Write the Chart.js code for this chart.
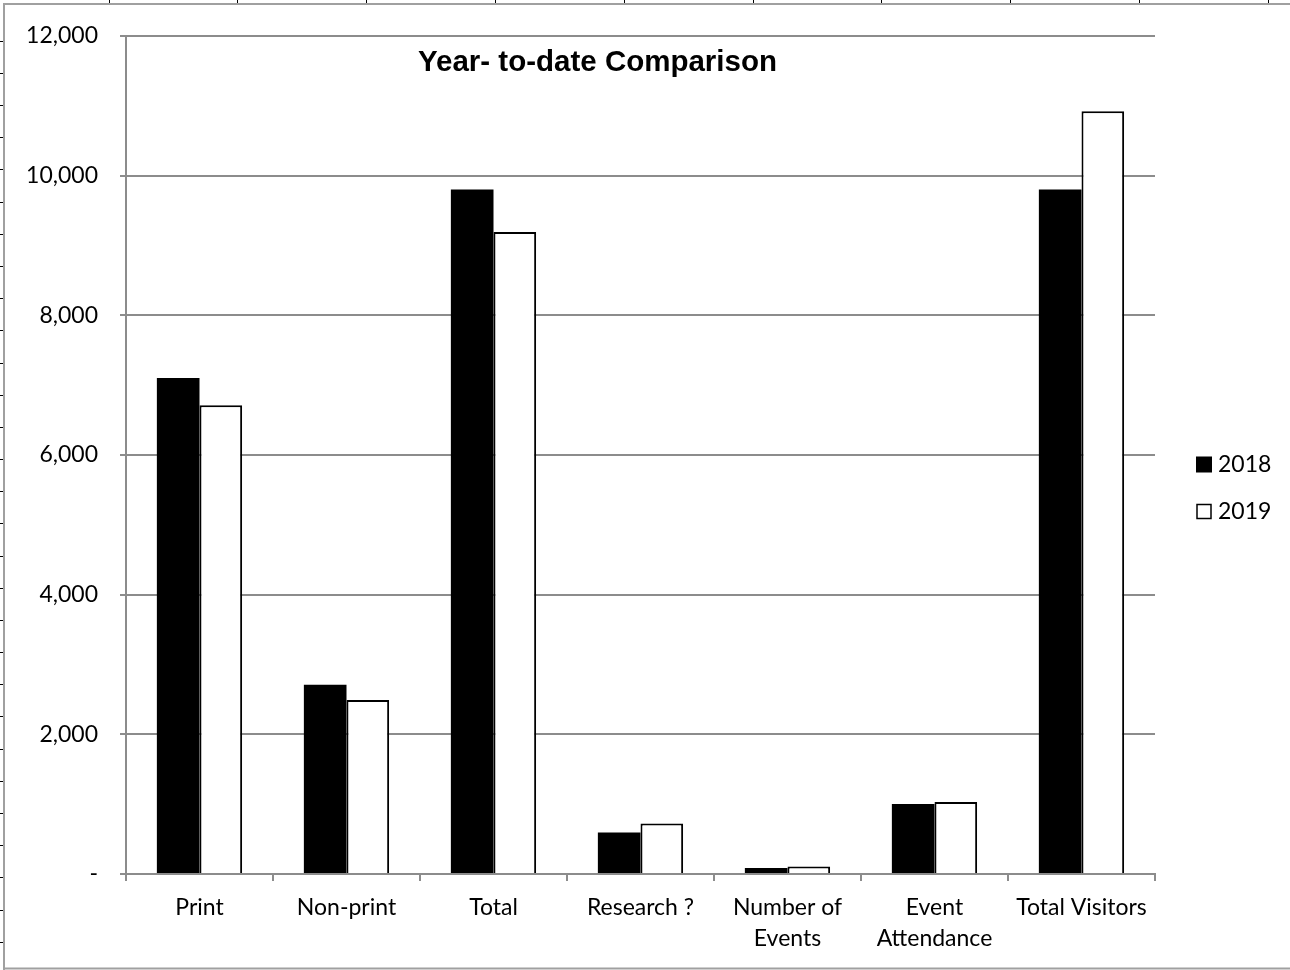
<!DOCTYPE html>
<html>
<head>
<meta charset="utf-8">
<title>Year- to-date Comparison</title>
<script src="https://cdn.jsdelivr.net/npm/chart.js@4.4.1/dist/chart.umd.min.js"></script>
<style>
  html, body { margin: 0; padding: 0; background: #ffffff; }
  #wrap { width: 1290px; height: 970px; position: relative; }
  canvas { display: block; }
</style>
</head>
<body>
<div id="wrap"><canvas id="chart" width="1290" height="970"></canvas></div>
<script>
// Categories and yearly totals
const categories = [
  'Print',
  'Non-print',
  'Total',
  'Research ?',
  ['Number of', 'Events'],
  ['Event', 'Attendance'],
  'Total Visitors'
];
const values2018 = [7100, 2710, 9800, 595, 86, 1003, 9800];
const values2019 = [6710, 2490, 9190, 722, 108, 1031, 10920];
const seriesNames = ['2018', '2019'];
const yTickValues = [0, 2000, 4000, 6000, 8000, 10000, 12000];

const fontFamily = 'Lato, "Open Sans", sans-serif';
const axisFont = { family: fontFamily, size: 23, lineHeight: 1.35 };
const gridGrey = '#8c8c8c';

// Sheet frame behind the chart, title and legend
const decorations = {
  id: 'decorations',
  beforeDraw(chart) {
    const ctx = chart.ctx;
    ctx.save();
    ctx.fillStyle = '#ffffff';
    ctx.fillRect(0, 0, chart.width, chart.height);
    // cell boundary marks
    ctx.strokeStyle = '#000000';
    ctx.lineWidth = 1;
    ctx.beginPath();
    for (let x = 108.5; x < chart.width; x += 128.8) {
      const px = Math.round(x) + 0.5;
      ctx.moveTo(px, 0); ctx.lineTo(px, 4);
    }
    for (let y = 40.7; y < chart.height; y += 32.18) {
      const py = Math.round(y) + 0.5;
      ctx.moveTo(0, py); ctx.lineTo(3, py);
    }
    ctx.stroke();
    // outer frame
    ctx.strokeStyle = '#a0a0a0';
    ctx.lineWidth = 2;
    ctx.beginPath();
    ctx.moveTo(4, chart.height + 2);
    ctx.lineTo(4, 4);
    ctx.lineTo(chart.width + 2, 4);
    ctx.moveTo(3, 968.5);
    ctx.lineTo(chart.width + 2, 968.5);
    ctx.stroke();
    ctx.restore();
  },
  afterDraw(chart) {
    const ctx = chart.ctx;
    ctx.save();
    // title
    ctx.fillStyle = '#000000';
    ctx.font = 'bold 29.5px "Liberation Sans", Arial, sans-serif';
    ctx.textAlign = 'center';
    ctx.textBaseline = 'alphabetic';
    ctx.fillText('Year- to-date Comparison', 597.5, 70.5);
    // legend
    ctx.font = '23px ' + fontFamily;
    ctx.textAlign = 'left';
    ctx.textBaseline = 'middle';
    const rows = [464.5, 511.5];
    chart.data.datasets.forEach((ds, i) => {
      const cy = rows[i];
      if (i === 0) {
        ctx.fillStyle = '#000000';
        ctx.fillRect(1196, cy - 8, 16, 16);
      } else {
        ctx.strokeStyle = '#000000';
        ctx.lineWidth = 1.5;
        ctx.strokeRect(1197, cy - 7, 14, 14);
      }
      ctx.fillStyle = '#000000';
      ctx.fillText(seriesNames[i], 1218, cy);
    });
    ctx.restore();
  }
};

new Chart(document.getElementById('chart'), {
  type: 'bar',
  data: {
    labels: categories,
    datasets: [
      {
        label: seriesNames[0],
        data: values2018,
        backgroundColor: '#000000',
        borderColor: '#000000',
        borderWidth: 0
      },
      {
        label: seriesNames[1],
        data: values2019,
        backgroundColor: '#ffffff',
        borderColor: '#000000',
        borderWidth: 2,
        borderSkipped: 'bottom'
      }
    ]
  },
  options: {
    responsive: false,
    animation: false,
    devicePixelRatio: 1,
    layout: { padding: { left: 0, top: 33, right: 135, bottom: 0 } },
    datasets: { bar: { categoryPercentage: 0.58, barPercentage: 1.0 } },
    plugins: {
      legend: { display: false },
      title: { display: false },
      tooltip: { enabled: false }
    },
    scales: {
      x: {
        grid: {
          offset: true,
          drawOnChartArea: false,
          drawTicks: true,
          tickLength: 7,
          color: gridGrey,
          lineWidth: 2
        },
        border: { display: true, color: gridGrey, width: 2 },
        ticks: {
          color: '#000000',
          font: axisFont,
          padding: 11,
          maxRotation: 0,
          autoSkip: false
        },
        afterFit(scale) { scale.height = 96; }
      },
      y: {
        min: 0,
        max: 12000,
        afterBuildTicks(scale) {
          scale.ticks = yTickValues.map(v => ({ value: v }));
        },
        grid: {
          color: gridGrey,
          lineWidth: 2,
          drawTicks: true,
          tickLength: 6
        },
        border: { display: true, color: gridGrey, width: 2 },
        ticks: {
          color: '#000000',
          font: { family: fontFamily, size: 23 },
          padding: 22,
          callback: v => (v === 0 ? '-' : v.toLocaleString('en-US'))
        },
        afterFit(scale) { scale.width = 126; }
      }
    }
  },
  plugins: [decorations]
});
</script>
</body>
</html>
